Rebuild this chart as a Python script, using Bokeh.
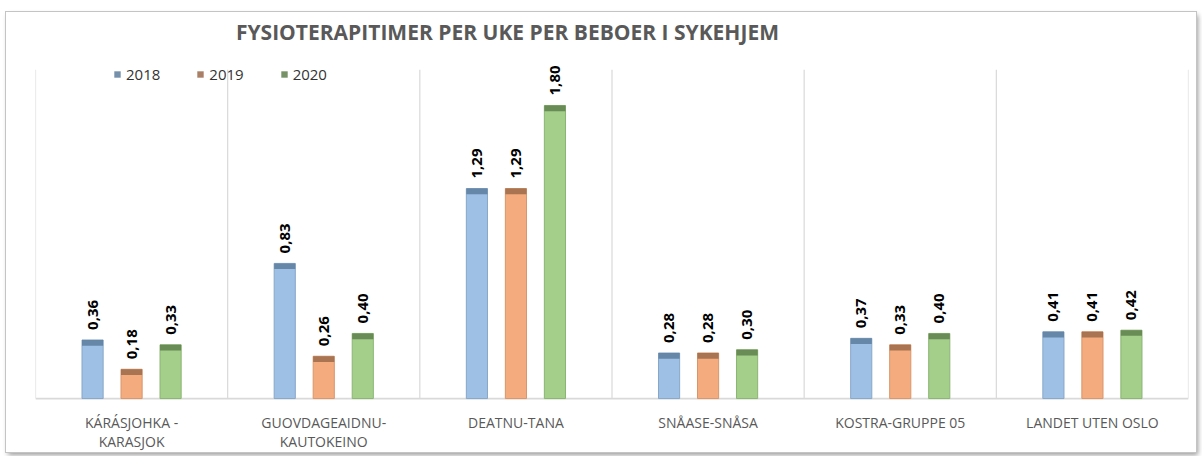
from bokeh.plotting import figure
from bokeh.models import Range1d, Legend, LegendItem, ColumnDataSource
from bokeh.core.properties import value
from bokeh.embed import file_html
from bokeh.resources import INLINE
import math

title = "FYSIOTERAPITIMER PER UKE PER BEBOER I SYKEHJEM"
categories = ["KÁRÁSJOHKA -\nKARASJOK", "GUOVDAGEAIDNU-\nKAUTOKEINO", "DEATNU-TANA",
              "SNÅASE-SNÅSA", "KOSTRA-GRUPPE 05", "LANDET UTEN OSLO"]
years = ["2018", "2019", "2020"]
v2018 = [0.36, 0.83, 1.29, 0.28, 0.37, 0.41]
v2019 = [0.18, 0.26, 1.29, 0.28, 0.33, 0.41]
v2020 = [0.33, 0.40, 1.80, 0.30, 0.40, 0.42]
series = [v2018, v2019, v2020]

fill_colors = ["#9dc0e4", "#f4ac7e", "#a3cf8a"]
top_colors = ["#5d7c9c", "#9a6a4a", "#5f7f4c"]
edge_colors = ["#86a7c8", "#d9956a", "#8bb573"]
offsets = [-0.203, 0.0, 0.203]
bar_w = 0.11

p = figure(width=1190, height=440, output_backend="svg", toolbar_location=None,
           x_range=Range1d(0, len(categories)), y_range=Range1d(-0.319, 2.371),
           min_border_left=29, min_border_right=8, min_border_top=0, min_border_bottom=2)
p.margin = (12, 0, 0, 6)
p.styles = {"box-shadow": "0 0 0 1px #c4c4c4, 2px 3px 5px #9a9a9a"}
p.outline_line_color = None
p.background_fill_color = "white"
p.border_fill_color = "white"
p.xgrid.visible = False
p.ygrid.visible = False
p.yaxis.visible = False
p.xaxis.visible = False

# chart title (drawn as text in the plot area)
p.text(x=[2.456], y=[2.254], text=[title], text_align="center", text_baseline="middle",
       text_font=value("Open Sans"), text_font_size="21px", text_font_style="bold",
       text_color="#595959")

# category dividers and baseline
bounds = list(range(len(categories) + 1))
p.segment(x0=bounds, y0=[0] * len(bounds), x1=bounds, y1=[2.02] * len(bounds),
          line_color="#d9d9d9", line_width=1.2)
p.segment(x0=[0], y0=[0], x1=[len(categories)], y1=[0],
          line_color="#d9d9d9", line_width=1.8)

# category labels
centers = [i + 0.5 for i in range(len(categories))]
p.text(x=centers, y=[0] * len(categories), text=categories, y_offset=14,
       text_align="center", text_baseline="top", text_line_height=1.0,
       text_font=value("Open Sans"), text_font_size="14px", text_color="#595959")

items = []
for k, vals in enumerate(series):
    xs = [c + offsets[k] for c in centers]
    src = ColumnDataSource(dict(x=xs, top=vals,
                                strip=[v - 0.035 for v in vals],
                                lab=[f"{v:.2f}".replace(".", ",") for v in vals]))
    p.vbar(x="x", top="top", bottom=0, width=bar_w, source=src,
           fill_color=fill_colors[k], line_color=edge_colors[k], line_width=1)
    strip = p.vbar(x="x", top="top", bottom="strip", width=bar_w, source=src,
                   fill_color=top_colors[k], line_color=None, fill_alpha=0.85)
    p.text(x="x", y="top", text="lab", source=src, angle=math.pi / 2,
           x_offset=0, y_offset=-10, text_align="left", text_baseline="middle",
           text_font=value("Open Sans"), text_font_size="15px",
           text_font_style="bold", text_color="black")
    items.append(LegendItem(label=years[k], renderers=[strip]))

legend = Legend(items=items, orientation="horizontal", location=(78, 366),
                glyph_width=8, glyph_height=8, label_standoff=5, spacing=36,
                padding=0, margin=0, border_line_color=None, background_fill_alpha=0,
                label_text_font="Open Sans", label_text_font_size="15px",
                label_text_color="#333333")
p.add_layout(legend)

open("out.html", "w").write(file_html(p, INLINE))
